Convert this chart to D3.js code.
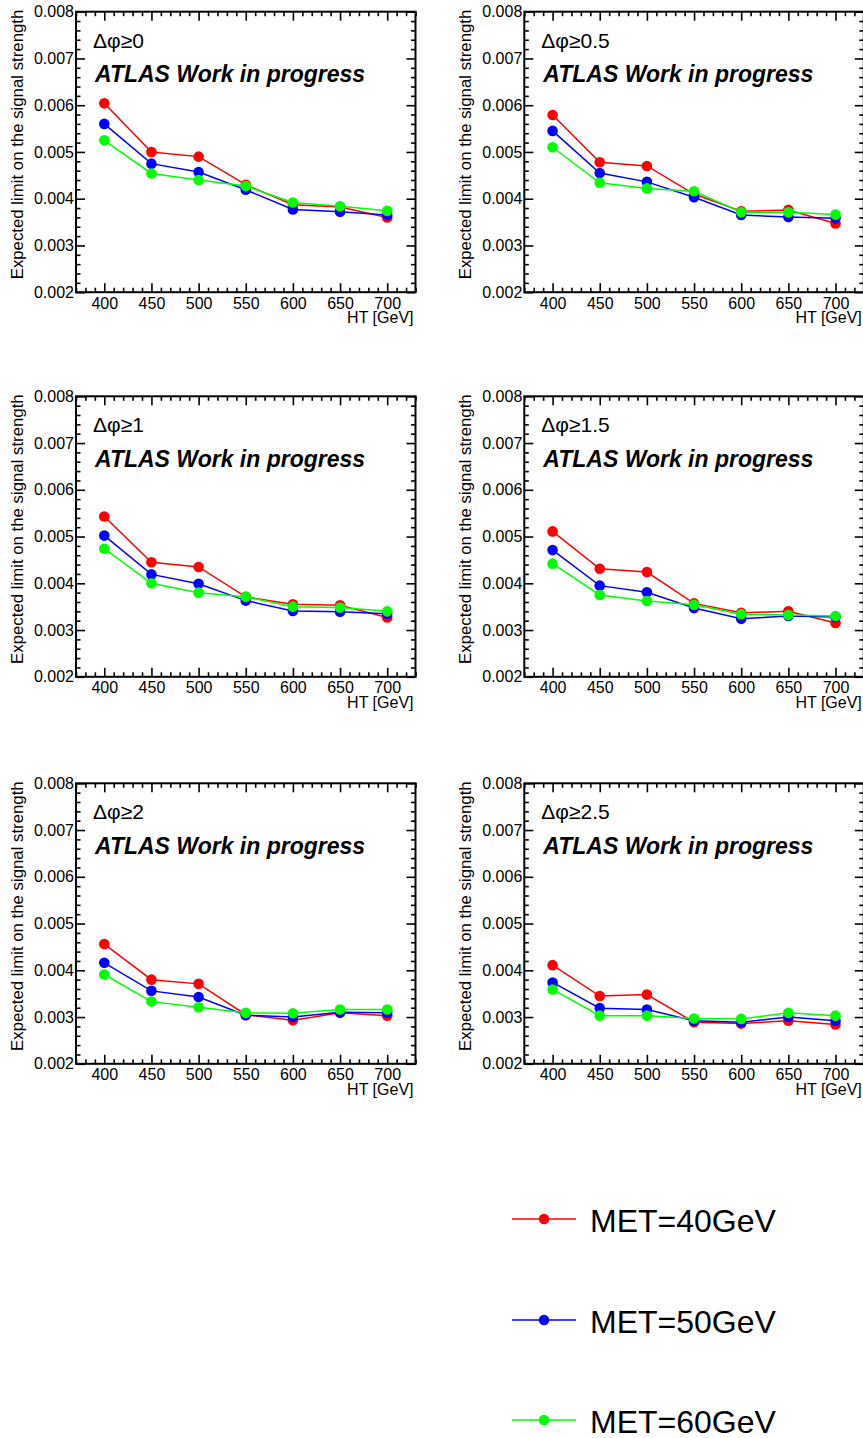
<!DOCTYPE html>
<html>
<head>
<meta charset="utf-8">
<script src="https://cdn.jsdelivr.net/npm/d3@7"></script>
<style>
  html, body { margin: 0; padding: 0; background: #fff; }
  svg { display: block; }
  text { font-family: "Liberation Sans", Arial, Helvetica, sans-serif; fill: #000; }
</style>
</head>
<body>
<svg id="chart" width="863" height="1438"></svg>
<script>
// ---------- data ----------
const htValues = [400, 450, 500, 550, 600, 650, 700];
const dphiCuts = ["0", "0.5", "1", "1.5", "2", "2.5"];
const yTickValues = [0.002, 0.003, 0.004, 0.005, 0.006, 0.007, 0.008];
const xTickValues = [400, 450, 500, 550, 600, 650, 700];
const seriesNames = ["MET=40GeV", "MET=50GeV", "MET=60GeV"];
const seriesColors = ["#ff0000", "#0000ff", "#00ff00"];

const met40Values = [
  [0.00604, 0.00500, 0.00490, 0.00430, 0.00387, 0.00382, 0.00360],
  [0.00579, 0.00478, 0.00470, 0.00410, 0.00373, 0.00376, 0.00347],
  [0.00543, 0.00445, 0.00435, 0.00371, 0.00355, 0.00353, 0.00327],
  [0.00511, 0.00431, 0.00424, 0.00357, 0.00337, 0.00340, 0.00315],
  [0.00456, 0.00380, 0.00371, 0.00305, 0.00293, 0.00309, 0.00303],
  [0.00411, 0.00345, 0.00348, 0.00289, 0.00286, 0.00292, 0.00284]
];
const met50Values = [
  [0.00560, 0.00475, 0.00457, 0.00419, 0.00377, 0.00372, 0.00365],
  [0.00545, 0.00455, 0.00436, 0.00403, 0.00365, 0.00361, 0.00358],
  [0.00502, 0.00419, 0.00399, 0.00363, 0.00341, 0.00339, 0.00335],
  [0.00471, 0.00395, 0.00381, 0.00347, 0.00324, 0.00330, 0.00328],
  [0.00416, 0.00356, 0.00343, 0.00304, 0.00300, 0.00310, 0.00309],
  [0.00374, 0.00319, 0.00316, 0.00292, 0.00289, 0.00300, 0.00292]
];
const met60Values = [
  [0.00525, 0.00454, 0.00440, 0.00427, 0.00392, 0.00384, 0.00374],
  [0.00510, 0.00434, 0.00422, 0.00416, 0.00371, 0.00371, 0.00366],
  [0.00474, 0.00400, 0.00380, 0.00371, 0.00350, 0.00348, 0.00340],
  [0.00442, 0.00375, 0.00362, 0.00354, 0.00334, 0.00332, 0.00330],
  [0.00391, 0.00333, 0.00321, 0.00309, 0.00308, 0.00316, 0.00316],
  [0.00359, 0.00303, 0.00303, 0.00297, 0.00296, 0.00309, 0.00303]
];
const allSeries = [met40Values, met50Values, met60Values];

// ---------- layout ----------
const svg = d3.select("#chart");
svg.append("rect").attr("width", 863).attr("height", 1438).attr("fill", "#fff");

const colLeft = [76, 524.3];
const rowTop = [11.7, 396.3, 783.3];
const W = 339.5, H = 280.5;

const x = d3.scaleLinear().domain([370, 730]).range([0, W]);
const y = d3.scaleLinear().domain([0.002, 0.008]).range([H, 0]);

const MAJ = 9, MIN = 4.5;
const fmtY = d3.format(".3f");

function styleAxis(g) {
  g.select(".domain").remove();
  g.selectAll(".tick line").attr("stroke", "#000").attr("stroke-width", 1.6);
  g.selectAll(".tick text")
    .style("font-family", '"Liberation Sans", Arial, Helvetica, sans-serif')
    .style("font-size", "16px").attr("fill", "#000");
}

dphiCuts.forEach((cut, p) => {
  const col = p % 2, row = Math.floor(p / 2);
  const g = svg.append("g").attr("transform", `translate(${colLeft[col]},${rowTop[row]})`);

  const xMinor = x.ticks(36).filter(v => !xTickValues.includes(v));
  const yMinor = y.ticks(30).filter(v => !yTickValues.some(t => Math.abs(t - v) < 1e-9));

  // bottom
  g.append("g").attr("transform", `translate(0,${H})`)
    .call(d3.axisBottom(x).tickValues(xMinor).tickSize(-MIN).tickFormat(""))
    .call(styleAxis);
  g.append("g").attr("transform", `translate(0,${H})`)
    .call(d3.axisBottom(x).tickValues(xTickValues).tickSize(-MAJ).tickPadding(5).tickFormat(d3.format("d")))
    .call(styleAxis);
  // top
  g.append("g")
    .call(d3.axisTop(x).tickValues(xMinor).tickSize(-MIN).tickFormat(""))
    .call(styleAxis);
  g.append("g")
    .call(d3.axisTop(x).tickValues(xTickValues).tickSize(-MAJ).tickFormat(""))
    .call(styleAxis);
  // left
  g.append("g")
    .call(d3.axisLeft(y).tickValues(yMinor).tickSize(-MIN).tickFormat(""))
    .call(styleAxis);
  g.append("g")
    .call(d3.axisLeft(y).tickValues(yTickValues).tickSize(-MAJ).tickPadding(2).tickFormat(fmtY))
    .call(styleAxis);
  // right
  g.append("g").attr("transform", `translate(${W},0)`)
    .call(d3.axisRight(y).tickValues(yMinor).tickSize(-MIN).tickFormat(""))
    .call(styleAxis);
  g.append("g").attr("transform", `translate(${W},0)`)
    .call(d3.axisRight(y).tickValues(yTickValues).tickSize(-MAJ).tickFormat(""))
    .call(styleAxis);

  // frame
  g.append("rect").attr("x", 0).attr("y", 0).attr("width", W).attr("height", H)
    .attr("fill", "none").attr("stroke", "#000").attr("stroke-width", 2);

  // axis titles
  g.append("text")
    .attr("transform", `translate(${-53},${-2}) rotate(-90)`)
    .attr("text-anchor", "end")
    .style("font-size", "16.8px")
    .text("Expected limit on the signal strength");
  g.append("text")
    .attr("x", W - 2).attr("y", H + 31)
    .attr("text-anchor", "end")
    .style("font-size", "16px")
    .text("HT [GeV]");

  // labels
  g.append("text")
    .attr("x", 17).attr("y", 36)
    .style("font-size", "21px")
    .text("Δφ≥" + cut);
  g.append("text")
    .attr("x", 19).attr("y", 70.5)
    .style("font-size", "23px").style("font-weight", "bold").style("font-style", "italic")
    .text("ATLAS Work in progress");

  // series
  const line = d3.line().x((d, i) => x(htValues[i])).y(d => y(d));
  allSeries.forEach((series, s) => {
    const vals = series[p];
    g.append("path").datum(vals)
      .attr("d", line).attr("fill", "none")
      .attr("stroke", seriesColors[s]).attr("stroke-width", 1.5);
    g.selectAll(null).data(vals).enter().append("circle")
      .attr("cx", (d, i) => x(htValues[i])).attr("cy", d => y(d))
      .attr("r", 5.3).attr("fill", seriesColors[s]);
  });
});

// ---------- legend ----------
const legendY = [1219, 1320, 1420];
const leg = svg.append("g");
seriesNames.forEach((name, s) => {
  const ly = legendY[s];
  leg.append("line").attr("x1", 512).attr("x2", 576).attr("y1", ly).attr("y2", ly)
    .attr("stroke", seriesColors[s]).attr("stroke-width", 1.5);
  leg.append("circle").attr("cx", 544).attr("cy", ly).attr("r", 5.2).attr("fill", seriesColors[s]);
  leg.append("text").attr("x", 590).attr("y", ly + 12.5)
    .style("font-size", "32px").text(name);
});
</script>
</body>
</html>
